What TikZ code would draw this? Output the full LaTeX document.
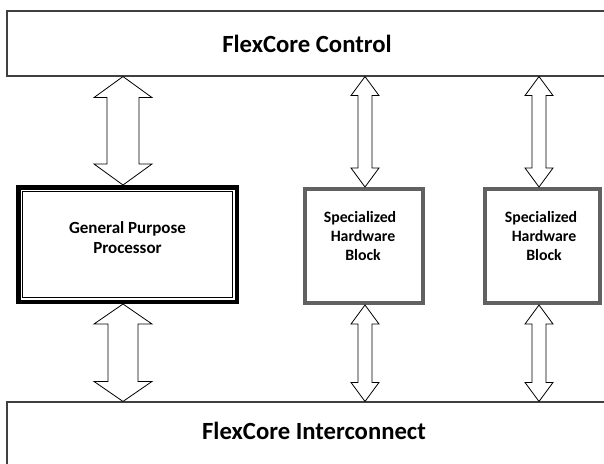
\documentclass[tikz,border=0pt]{standalone}
\usepackage{fontspec}
\setmainfont{Carlito}
\usetikzlibrary{calc}
\tikzset{
  busbox/.style={draw=black!75, line width=1.1pt, fill=white, inner sep=0pt, font=\fontsize{24.7}{28}\selectfont\bfseries},
  bustext/.style={inner sep=0pt, font=\fontsize{24.7}{28}\selectfont\bfseries},
  gppbox/.style={draw=black, line width=4.5pt, fill=white, minimum width=218.5pt, minimum height=114.5pt, inner sep=0pt},
  gppinner/.style={draw=black, line width=1.3pt},
  gpptext/.style={font=\fontsize{17}{20}\selectfont\bfseries, align=center, inner sep=0pt},
  hwbox/.style={draw=black!62, line width=4pt, fill=white, minimum height=114pt, inner sep=0pt},
  hwtext/.style={font=\fontsize{15.8}{19}\selectfont\bfseries, align=center, inner sep=0pt},
  blockarrow/.style={draw=black, line width=0.8pt, fill=white, line join=miter},
}
% #1 top tip, #2 bottom tip, #3 head half width, #4 shaft half width, #5 head length
\newcommand\myblockarrow[5]{%
  \path[blockarrow] (#1) -- ($(#1)+(#3,#5)$) -- ($(#1)+(#4,#5)$) -- ($(#2)+(#4,-#5)$) -- ($(#2)+(#3,-#5)$) -- (#2)
    -- ($(#2)+(-#3,-#5)$) -- ($(#2)+(-#4,-#5)$) -- ($(#1)+(-#4,#5)$) -- ($(#1)+(-#3,#5)$) -- cycle;}
\begin{document}
\begin{tikzpicture}[x=1pt,y=-1pt]
\useasboundingbox (0,0) rectangle (604,463);
\clip (0,0) rectangle (604,463);
\fill[white] (0,0) rectangle (604,463);

\node[busbox, minimum width=600pt, minimum height=65pt] (ctrl) at (307,43.5) {FlexCore Control};
\node[busbox, minimum width=614pt, minimum height=70pt] (inter) at (314,437) {};
\node[bustext] (interl) at ([yshift=6.4pt]inter.center) {FlexCore Interconnect};

\node[gppbox] (gpp) at (127.5,244.5) {};
\draw[gppinner] ([shift={(6.6,6.6)}]gpp.north west) rectangle ([shift={(-6.6,-6.6)}]gpp.south east);
\node[gpptext] (gppl) at ([yshift=6.5pt]gpp.center) {General Purpose\\Processor};

\node[hwbox, minimum width=118pt] (hw1) at (364,246) {};
\node[hwtext] (hw1l) at ([yshift=10pt,xshift=-1pt]hw1.center) {Specialized\hspace*{6pt}\\Hardware\\Block};
\node[hwbox, minimum width=115pt] (hw2) at (542.5,246) {};
\node[hwtext] (hw2l) at ([yshift=10pt,xshift=1.5pt]hw2.center) {Specialized\hspace*{6pt}\\Hardware\\Block};

\coordinate (ax1) at (123,0);
\coordinate (ax2) at (365,0);
\coordinate (ax3) at (539,0);

\coordinate (t1) at (ctrl.south -| ax1); \coordinate (b1) at (gpp.north -| ax1);
\coordinate (t2) at (gpp.south -| ax1);  \coordinate (b2) at (inter.north -| ax1);
\coordinate (t3) at (ctrl.south -| ax2); \coordinate (b3) at (hw1.north -| ax2);
\coordinate (t4) at (hw1.south -| ax2);  \coordinate (b4) at (inter.north -| ax2);
\coordinate (t5) at (ctrl.south -| ax3); \coordinate (b5) at (hw2.north -| ax3);
\coordinate (t6) at (hw2.south -| ax3);  \coordinate (b6) at (inter.north -| ax3);

\myblockarrow{t1}{b1}{29}{16}{21}
\myblockarrow{t2}{b2}{29}{15}{20}
\myblockarrow{t3}{b3}{14}{7}{19}
\myblockarrow{t4}{b4}{14}{7}{19}
\myblockarrow{t5}{b5}{14}{7}{19}
\myblockarrow{t6}{b6}{14}{7}{19}
\end{tikzpicture}
\end{document}
